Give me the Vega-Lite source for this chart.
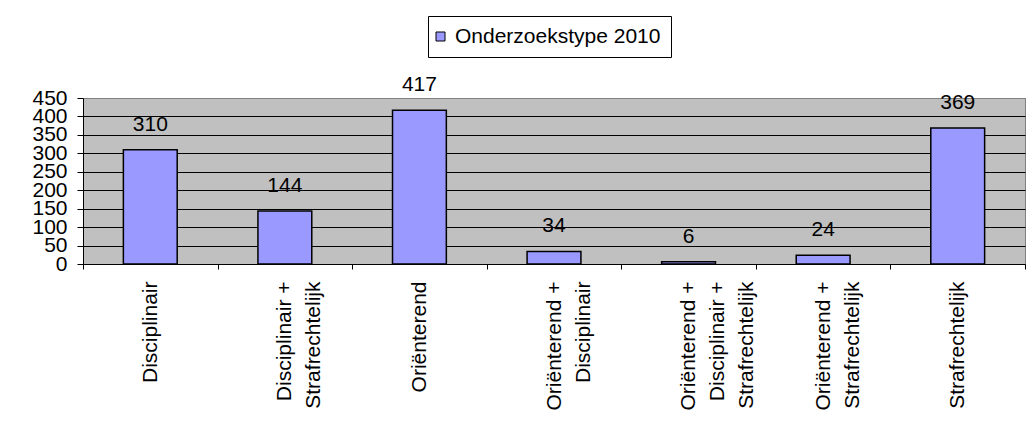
{
  "$schema": "https://vega.github.io/schema/vega-lite/v6.json",
  "width": 942,
  "height": 166,
  "autosize": {"type": "none"},
  "padding": {"left": 83, "top": 98, "right": 10, "bottom": 162},
  "background": "white",
  "data": {
    "values": [
      {"type": "Disciplinair", "count": 310},
      {"type": "Disciplinair +\nStrafrechtelijk", "count": 144},
      {"type": "Oriënterend", "count": 417},
      {"type": "Oriënterend +\nDisciplinair", "count": 34},
      {"type": "Oriënterend +\nDisciplinair +\nStrafrechtelijk", "count": 6},
      {"type": "Oriënterend +\nStrafrechtelijk", "count": 24},
      {"type": "Strafrechtelijk", "count": 369}
    ]
  },
  "encoding": {
    "x": {
      "field": "type",
      "type": "nominal",
      "sort": null,
      "scale": {"paddingInner": 0, "paddingOuter": 0},
      "axis": {
        "title": null,
        "tickBand": "extent",
        "labelAngle": -90,
        "labelAlign": "right",
        "labelBaseline": "middle",
        "labelFontSize": 21,
        "labelLineHeight": 29,
        "labelExpr": "split(datum.label, '\\n')",
        "labelColor": "black",
        "labelPadding": 12,
        "labelLimit": 0,
        "labelOverlap": false,
        "domainColor": "black",
        "domainWidth": 1,
        "tickColor": "black",
        "tickSize": 5,
        "grid": false
      }
    },
    "y": {
      "field": "count",
      "type": "quantitative",
      "scale": {"domain": [0, 450], "nice": false},
      "axis": {
        "title": null,
        "values": [0, 50, 100, 150, 200, 250, 300, 350, 400, 450],
        "labelFontSize": 21,
        "labelColor": "black",
        "labelOverlap": false,
        "labelFlush": false,
        "labelPadding": 10,
        "tickSize": 6,
        "tickColor": "black",
        "domainColor": "black",
        "grid": true,
        "gridColor": {"condition": {"test": "datum.value == 450", "value": "#808080"}, "value": "#000000"},
        "gridWidth": 1
      }
    }
  },
  "layer": [
    {
      "mark": {"type": "bar", "stroke": "black", "strokeWidth": 1.5, "width": {"band": 0.4}},
      "encoding": {
        "color": {
          "datum": "Onderzoekstype 2010",
          "type": "nominal",
          "scale": {"range": ["#9999FF"]},
          "legend": {
            "title": null,
            "orient": "none",
            "legendX": 345,
            "legendY": -82,
            "symbolType": "square",
            "symbolSize": 81,
            "symbolOffset": -8,
            "symbolStrokeColor": "black",
            "symbolStrokeWidth": 1,
            "symbolFillColor": "#9999FF",
            "labelFontSize": 21,
            "labelColor": "black",
            "labelOffset": 4,
            "labelLimit": 500,
            "padding": 10,
            "strokeColor": "black",
            "fillColor": "white"
          }
        }
      }
    },
    {
      "mark": {"type": "text", "baseline": "alphabetic", "dy": -19, "fontSize": 21, "color": "black"},
      "encoding": {"text": {"field": "count", "type": "quantitative"}}
    }
  ],
  "config": {
    "font": "Liberation Sans",
    "view": {"fill": "#C0C0C0", "stroke": "#808080", "strokeWidth": 1}
  }
}
